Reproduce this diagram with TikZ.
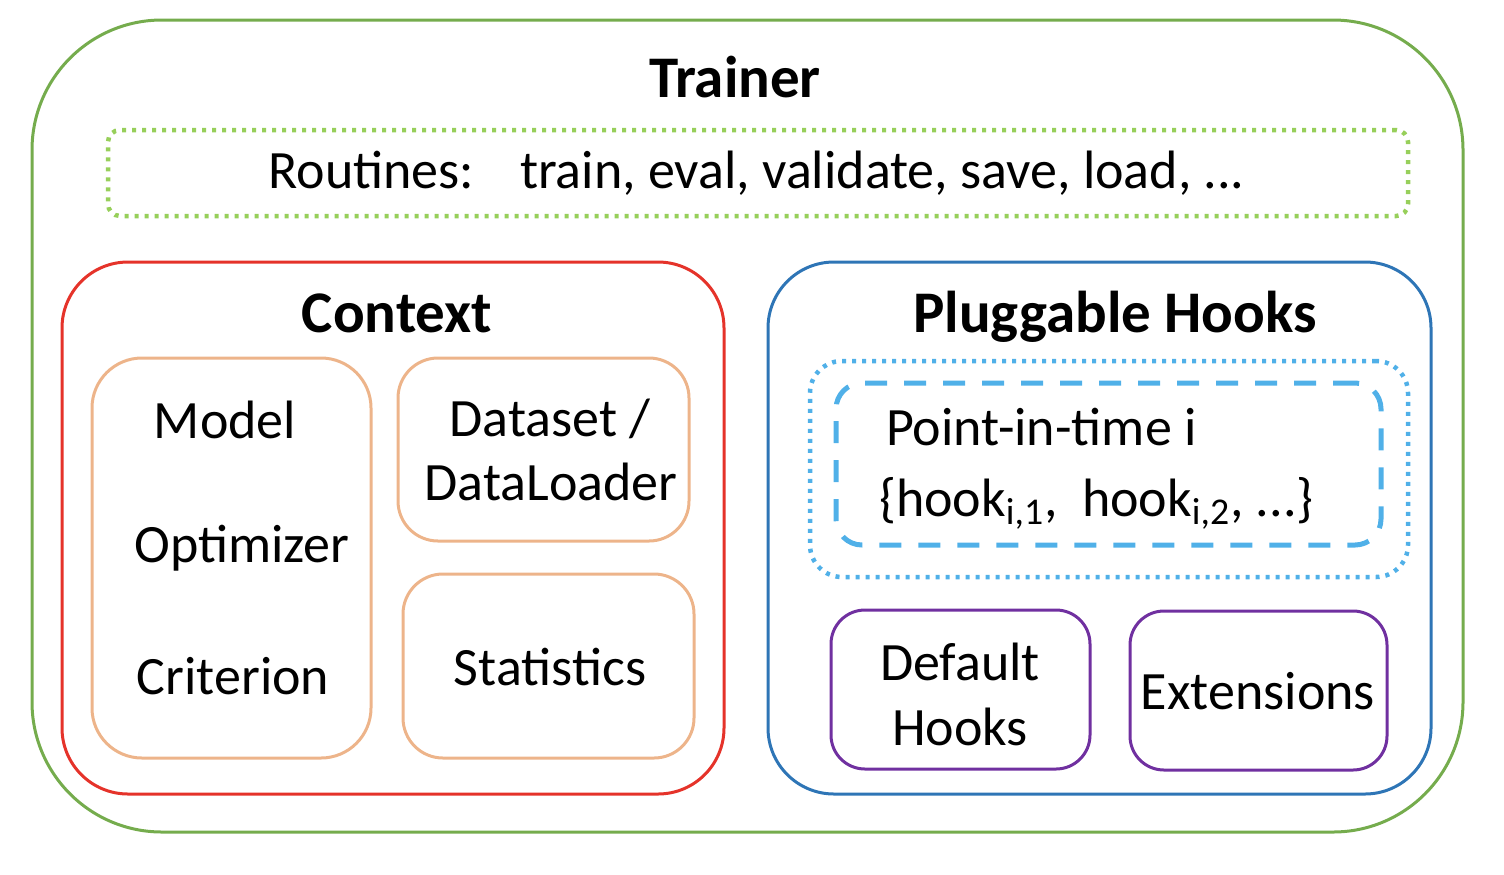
\documentclass[tikz,border=0pt]{standalone}
\usepackage{fontspec}
\setmainfont{Carlito}
\definecolor{cgreen}{HTML}{75AC4D}
\definecolor{clgreen}{HTML}{97CF5A}
\definecolor{cred}{HTML}{E5332A}
\definecolor{ctan}{HTML}{EDB48A}
\definecolor{cblue}{HTML}{2E75B6}
\definecolor{clblue}{HTML}{50B0E8}
\definecolor{cpurple}{HTML}{7030A0}
\begin{document}
\begin{tikzpicture}[x=1pt,y=-1pt,
  box/.style={draw, rectangle, inner sep=0pt, minimum width=#1},
  title/.style={anchor=base, font=\fontsize{29.5}{35}\selectfont\bfseries},
  txt/.style={anchor=base, font=\fontsize{27}{32}\selectfont},
  dotline/.style={line width=2.25pt, dash pattern=on 2pt off 3pt},
]
\useasboundingbox (0,0) rectangle (752,437);
% outer trainer
\node[box=715.5pt, minimum height=406pt, rounded corners=65pt, draw=cgreen, line width=1.5pt] (trainer) at (373.75,213) {};
\node[title] (trainert) at (367.5,48.5) {Trainer};
\node[box=650pt, minimum height=43pt, rounded corners=6pt, draw=clgreen, dotline] (routines) at (379,86.5) {};
\node[txt] (routinest) at (378.25,94) {Routines:\hspace{0.85em}train, eval, validate, save, load, ...};
% context
\node[box=331pt, minimum height=266pt, rounded corners=33pt, draw=cred, line width=1.5pt] (context) at (196.5,264) {};
\node[title] (contextt) at (198.5,166) {Context};
\node[box=139.5pt, minimum height=200pt, rounded corners=25pt, draw=ctan, line width=1.5pt] (mocbox) at (115.75,279) {};
\node[txt] (model) at (112.5,219) {Model};
\node[txt] (optim) at (121,281) {Optimizer};
\node[txt] (crit) at (116.5,347) {Criterion};
\node[box=145.5pt, minimum height=91.5pt, rounded corners=20pt, draw=ctan, line width=1.5pt] (databox) at (271.75,224.75) {};
\node[txt] (dataset) at (275,218) {Dataset /};
\node[txt] (loader) at (275.5,250) {DataLoader};
\node[box=145.5pt, minimum height=92pt, rounded corners=20pt, draw=ctan, line width=1.5pt] (statbox) at (274.25,333) {};
\node[txt] (stat) at (275,342.5) {Statistics};
% hooks
\node[box=331.5pt, minimum height=266pt, rounded corners=33pt, draw=cblue, line width=1.5pt] (hooks) at (549.75,264) {};
\node[title] (hookst) at (557.5,166) {Pluggable Hooks};
\node[box=299pt, minimum height=108pt, rounded corners=16pt, draw=clblue, dotline] (pitouter) at (554.5,234.5) {};
\node[box=272.5pt, minimum height=81pt, rounded corners=13pt, draw=clblue, line width=2.5pt, dash pattern=on 11pt off 8.5pt] (pitinner) at (554.25,232) {};
\node[txt, anchor=base west] (pit) at (439.5,222.5) {Point-in-time i};
\node[txt, anchor=base west] (hooklist) at (436,258) {\{hook\textsubscript{i,1},\ \ hook\textsubscript{i,2}, ...\}};
\node[box=129.5pt, minimum height=79.5pt, rounded corners=17pt, draw=cpurple, line width=1.5pt] (defbox) at (480.25,344.75) {};
\node[txt] (def1) at (480,340) {Default};
\node[txt] (def2) at (480,372.5) {Hooks};
\node[box=128.5pt, minimum height=79.5pt, rounded corners=17pt, draw=cpurple, line width=1.5pt] (extbox) at (629.25,345.25) {};
\node[txt] (ext) at (629,354.5) {Extensions};
\end{tikzpicture}
\end{document}
